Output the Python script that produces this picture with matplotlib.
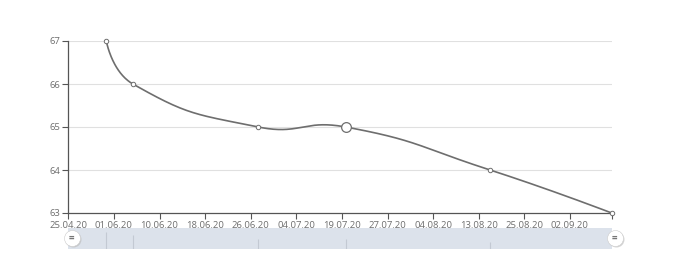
import numpy as np
import matplotlib
matplotlib.use("Agg")
import matplotlib.pyplot as plt

# category axis: 144 dates, a label every 12th category
N_CATEGORIES = 144
TICK_LABELS = ["25.04.20", "01.06.20", "10.06.20", "18.06.20", "26.06.20", "04.07.20",
               "19.07.20", "27.07.20", "04.08.20", "13.08.20", "25.08.20", "02.09.20"]
LABEL_STEP = 12

# series (only categories that hold a value; the rest are null, connected)
POINT_IDX = [10, 17, 50, 73, 111, 143]
POINT_VAL = [67, 66, 65, 65, 64, 63]
HOVER_IDX = 3

Y_TICKS = [63, 64, 65, 66, 67]

LINE_COLOR = "#6e6e6e"
TEXT_COLOR = "#6e6e6e"
GRID_COLOR = "#e0e0e0"
SMOOTH = 0.5


def smooth_path(pts):
    """echarts-like smooth line through pixel points, returns sampled pixel coords."""
    pts = np.asarray(pts, dtype=float)
    lo, hi = pts.min(axis=0), pts.max(axis=0)
    out = [pts[0]]
    cp0 = pts[0].copy()
    for i in range(1, len(pts)):
        p = pts[i]
        prev = pts[i - 1]
        if i + 1 < len(pts):
            nxt = pts[i + 1]
            v = nxt - prev
            lp = np.hypot(*(p - prev))
            ln = np.hypot(*(nxt - p))
            r = ln / (ln + lp)
            cp1 = p - v * SMOOTH * (1 - r)
        else:
            v = np.zeros(2)
            r = 0.5
            cp1 = p.copy()
        cp0c = np.clip(cp0, lo, hi)
        cp1c = np.clip(cp1, lo, hi)
        t = np.linspace(0, 1, 60)[1:, None]
        seg = ((1 - t) ** 3) * prev + 3 * ((1 - t) ** 2) * t * cp0c \
            + 3 * (1 - t) * t ** 2 * cp1c + t ** 3 * p
        out.extend(seg)
        cp0 = p + v * SMOOTH * r
    return np.array(out)


def main():
    plt.rcParams["font.family"] = ["Open Sans", "DejaVu Sans"]
    fig = plt.figure(figsize=(6.8, 2.54), dpi=100)
    ax = fig.add_axes([68.3 / 680, 41 / 254, 543.4 / 680, 172 / 254])

    ax.set_xlim(0, N_CATEGORIES - 1)
    ax.set_ylim(Y_TICKS[0], Y_TICKS[-1])

    for v in Y_TICKS[1:]:
        ax.axhline(v, color=GRID_COLOR, lw=0.8, zorder=0)

    tick_pos = list(range(0, N_CATEGORIES, LABEL_STEP))
    ax.set_xticks(tick_pos + [N_CATEGORIES - 1])
    ax.set_xticklabels(TICK_LABELS + [""])
    ax.set_yticks(Y_TICKS)
    ax.set_yticklabels([str(v) for v in Y_TICKS])
    ax.tick_params(axis="both", labelsize=6.8, colors=TEXT_COLOR, length=4, width=0.8,
                   pad=2, color="#555555")
    for s in ["top", "right"]:
        ax.spines[s].set_visible(False)
    for s in ["left", "bottom"]:
        ax.spines[s].set_color("#555555")
        ax.spines[s].set_linewidth(0.9)

    # smooth line computed in pixel space
    pix = ax.transData.transform(np.column_stack([POINT_IDX, POINT_VAL]))
    curve = ax.transData.inverted().transform(smooth_path(pix))
    ax.plot(curve[:, 0], curve[:, 1], color=LINE_COLOR, lw=1.2, zorder=3, clip_on=False)

    others = [i for i in range(len(POINT_IDX)) if i != HOVER_IDX]
    ax.plot([POINT_IDX[i] for i in others], [POINT_VAL[i] for i in others], "o",
            ms=3.2, mfc="white", mec=LINE_COLOR, mew=0.7, zorder=4, clip_on=False)
    ax.plot(POINT_IDX[HOVER_IDX], POINT_VAL[HOVER_IDX], "o", ms=7, mfc="white",
            mec=LINE_COLOR, mew=0.9, zorder=5, clip_on=False)

    # dataZoom slider
    sx = fig.add_axes([68.3 / 680, 5 / 254, 543.4 / 680, 21 / 254])
    sx.set_xlim(0, N_CATEGORIES - 1)
    sx.set_ylim(0, 1)
    sx.axis("off")
    sx.axvspan(0, N_CATEGORIES - 1, color="#dce2eb", zorder=0)
    lo = min(POINT_VAL) - (max(POINT_VAL) - min(POINT_VAL)) * 0.3
    hi = max(POINT_VAL) + (max(POINT_VAL) - min(POINT_VAL)) * 0.3
    for x, v in zip(POINT_IDX[:-1], POINT_VAL[:-1]):
        sx.vlines(x, 0, (v - lo) / (hi - lo), color="#c3c9d3", lw=0.8, zorder=1)
    for x in [0.9, N_CATEGORIES - 0.2]:
        sx.plot(x + 0.4, 0.47, "o", ms=11.5, mfc="#b8b8b8", mec="none", alpha=0.6,
                zorder=3, clip_on=False)
        sx.plot(x, 0.52, "o", ms=11.5, mfc="white", mec="#cccccc", mew=0.4,
                zorder=4, clip_on=False)
        sx.text(x, 0.52, "=", ha="center", va="center", fontsize=7, color="#777777",
                fontweight="bold", zorder=5, clip_on=False)

    fig.savefig("out.png", dpi=100)
    plt.close(fig)


if __name__ == "__main__":
    main()
